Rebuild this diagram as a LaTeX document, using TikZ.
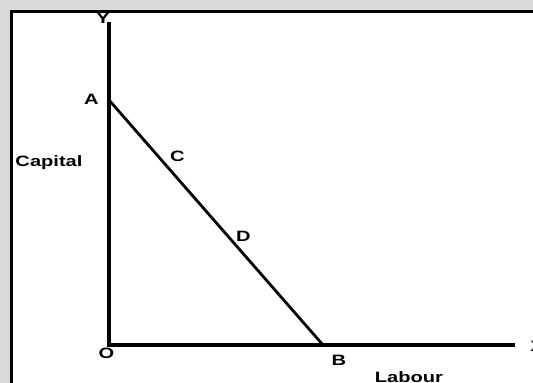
\documentclass[tikz,border=0pt]{standalone}
\usepackage{fontspec}
\setmainfont{Liberation Sans}
\usepackage{graphicx}
\usetikzlibrary{positioning}

\definecolor{bggray}{RGB}{218,218,218}
\newcommand{\wide}[1]{\scalebox{1.34}[1]{#1}}

\begin{document}
\begin{tikzpicture}[x=1pt, y=-1pt,
    axis/.style={line width=3.5pt, black, line join=miter},
    budget/.style={line width=2.8pt, black},
    lbl/.style={font=\bfseries\fontsize{15}{15}\selectfont, inner sep=0pt, anchor=base}
]
\useasboundingbox (0,0) rectangle (533,383);
\clip (0,0) rectangle (533,383);
\fill[bggray] (0,0) rectangle (533,383);
\filldraw[fill=white, draw=black, line width=3pt] (11.5,11.5) rectangle (560,400);

% axes and points
\coordinate (O) at (109,345);
\coordinate (Ytop) at (109,22);
\coordinate (Xend) at (515,345);
\coordinate (A) at (109,100);
\coordinate (B) at (323,345);

\draw[axis] (Ytop) -- (O) -- (Xend);
\draw[budget] (A) -- (B);

% labels
\node[lbl] (ylab) at (103,23) {\wide{Y}};
\node[lbl] (xlab) at (537,351) {\wide{X}};
\node[lbl] (olab) at (106.5,358.5) {\wide{O}};
\node[lbl] (alab) at (91.5,104) {\wide{A}};
\node[lbl] (blab) at (339,365) {\wide{B}};
\node[lbl] (clab) at (177.5,161) {\wide{C}};
\node[lbl] (dlab) at (243.5,241) {\wide{D}};
\node[lbl] (cap) at (49,166.5) {\wide{Capital}};
\node[lbl] (lab) at (409,382) {\wide{Labour}};
\end{tikzpicture}
\end{document}
